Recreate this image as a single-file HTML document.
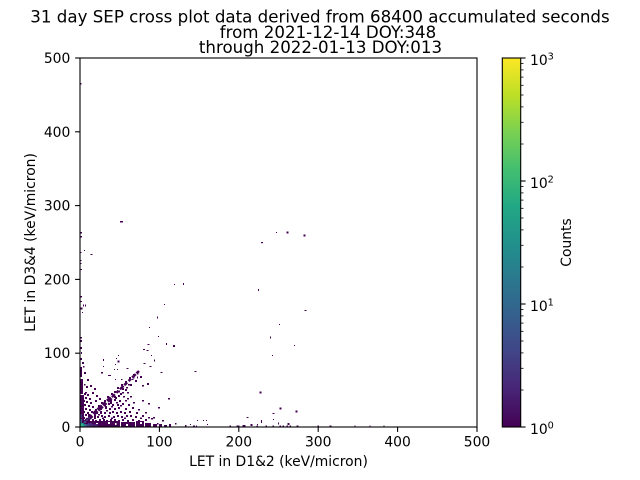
<!DOCTYPE html>
<html><head><meta charset="utf-8"><style>
html,body{margin:0;padding:0;background:#fff}
svg{display:block}
text{font-family:"DejaVu Sans","Liberation Sans",sans-serif;fill:#000}
</style></head><body>
<svg width="640" height="480" viewBox="0 0 640 480" xmlns="http://www.w3.org/2000/svg">
<defs>
<linearGradient id="vir" x1="0" y1="1" x2="0" y2="0">
<stop offset="0" stop-color="#440154"/><stop offset="0.1" stop-color="#482475"/>
<stop offset="0.2" stop-color="#414487"/><stop offset="0.3" stop-color="#355f8d"/>
<stop offset="0.4" stop-color="#2a788e"/><stop offset="0.5" stop-color="#21918c"/>
<stop offset="0.6" stop-color="#22a884"/><stop offset="0.7" stop-color="#44bf70"/>
<stop offset="0.8" stop-color="#7ad151"/><stop offset="0.9" stop-color="#bddf26"/>
<stop offset="1" stop-color="#fde725"/>
</linearGradient>
</defs>
<rect width="640" height="480" fill="#fff"/>

<!-- title -->
<g font-size="16.67">
<text x="320" y="22.3" text-anchor="middle">31 day SEP cross plot data derived from 68400 accumulated seconds</text>
<text x="328" y="37.8" text-anchor="middle">from 2021-12-14 DOY:348</text>
<text x="320.5" y="53.2" text-anchor="middle">through 2022-01-13 DOY:013</text>
</g>

<!-- heatmap -->
<g fill="#440154">
<!-- sparse upper -->
<rect x="80.5" y="83" width="1" height="1.5"/>
<rect x="120" y="221" width="3" height="1.5"/>
<rect x="80.5" y="232" width="1.5" height="1.5"/><rect x="80.5" y="236" width="1.5" height="1.5"/>
<rect x="261" y="242" width="2" height="1.2"/><rect x="276" y="232" width="1" height="1"/>
<rect x="286.5" y="231.5" width="2" height="2"/><rect x="303.5" y="234.5" width="2" height="2"/>
<rect x="84" y="250" width="1" height="1"/><rect x="90.5" y="254" width="2" height="1"/>
<rect x="80.5" y="252" width="1" height="1"/><rect x="80.5" y="269" width="1.5" height="1"/>
<rect x="80.5" y="260" width="1" height="1"/><rect x="80.5" y="263" width="1" height="1"/>
<rect x="174" y="284" width="1" height="1"/><rect x="183" y="283" width="1" height="2"/>
<rect x="258" y="289" width="1" height="2"/>
<rect x="80.5" y="296" width="1.5" height="1.5"/><rect x="80.5" y="301" width="1.5" height="1"/>
<rect x="83" y="304.5" width="1" height="2"/><rect x="85" y="304.5" width="1" height="2"/>
<rect x="80.5" y="307.5" width="2" height="2"/><rect x="82" y="312" width="1" height="1"/>
<rect x="164" y="304" width="1" height="1"/><rect x="304.5" y="310" width="2" height="1"/>
<rect x="157" y="316.5" width="1" height="2"/><rect x="279" y="324" width="1" height="1"/>
<rect x="149" y="327" width="1" height="1"/><rect x="158" y="336" width="1" height="1"/>
<rect x="270" y="336.5" width="1" height="2"/><rect x="80.5" y="337" width="1.5" height="1.5"/>
<rect x="166" y="343" width="1" height="2"/><rect x="173" y="345" width="2" height="2"/>
<rect x="294" y="345" width="1" height="1"/><rect x="147.5" y="344" width="2" height="1"/>
<rect x="143" y="349" width="2" height="1"/><rect x="146.5" y="350" width="2" height="1"/>
<rect x="272" y="355" width="1" height="1"/><rect x="118" y="355" width="1" height="1"/>
<rect x="151" y="355" width="1" height="1"/>
<rect x="103" y="359" width="1" height="2"/><rect x="117.5" y="360.5" width="2" height="2"/>
<rect x="116" y="358" width="1" height="1"/><rect x="154" y="359.5" width="1" height="2"/>
<rect x="143.5" y="363" width="2" height="1"/><rect x="115" y="364" width="1" height="1"/>
<rect x="103" y="366" width="1" height="1"/><rect x="149.5" y="366" width="2" height="1"/>
<rect x="126.5" y="368" width="2" height="1"/><rect x="114" y="369" width="1" height="1"/>
<rect x="117" y="369" width="1" height="1"/><rect x="160.5" y="372" width="2" height="1"/>
<rect x="194.5" y="371" width="2" height="1"/><rect x="137" y="372.5" width="1.5" height="2"/>
<rect x="108" y="375" width="3" height="1"/><rect x="132.5" y="376.5" width="2" height="2"/>
<rect x="137" y="376.5" width="1" height="2"/><rect x="115" y="379" width="1" height="1"/>
<rect x="121" y="379" width="1.5" height="1"/><rect x="131.5" y="379" width="2" height="1"/>
<!-- sparse lower right -->
<rect x="259.5" y="391.5" width="2" height="2"/><rect x="279.5" y="407.5" width="2" height="2"/>
<rect x="295.5" y="410.5" width="2" height="2"/><rect x="272.5" y="413" width="2" height="1"/>
<rect x="246.5" y="417" width="2" height="1"/><rect x="261" y="420" width="1" height="3"/>
<rect x="278" y="422.5" width="1" height="2"/><rect x="287.5" y="423" width="2" height="2"/>
<rect x="273" y="419" width="1" height="1"/><rect x="250.5" y="424" width="2" height="2"/>
<rect x="257" y="424" width="1" height="1"/><rect x="197" y="420" width="1" height="1"/>
<rect x="203" y="420" width="1" height="1"/><rect x="206" y="420" width="1" height="1"/>
<rect x="190" y="424" width="1" height="1"/><rect x="207" y="424" width="1" height="1"/>
<rect x="193" y="425.5" width="2" height="1.5"/><rect x="196" y="425.5" width="1" height="1.5"/>
<rect x="229.5" y="425.5" width="1.5" height="1.5"/><rect x="236.5" y="425.5" width="3" height="1.5"/>
<rect x="242.5" y="425" width="3" height="2"/><rect x="256.5" y="425.5" width="1.5" height="1.5"/>
<rect x="265.5" y="425.5" width="1.5" height="1.5"/><rect x="272.5" y="425.5" width="1.5" height="1.5"/>
<rect x="279.5" y="425.5" width="1.5" height="1.5"/><rect x="282.5" y="425.5" width="1.5" height="1.5"/>
<rect x="286.5" y="425.5" width="1.5" height="1.5"/><rect x="289.5" y="425.5" width="1.5" height="1.5"/>
<rect x="296.5" y="425.5" width="2" height="1.5"/><rect x="317.5" y="425.5" width="1.5" height="1.5"/>
<rect x="329.5" y="425.5" width="2" height="1.5"/><rect x="354.5" y="425.5" width="1" height="1.5"/>
<rect x="369.5" y="425.5" width="1" height="1.5"/><rect x="383.5" y="425.5" width="1" height="1.5"/>
<rect x="175" y="423" width="1.5" height="1.5"/><rect x="185" y="425" width="1.5" height="2"/>
<rect x="157" y="423" width="1.5" height="1.5"/>
<!-- mid scatter near cluster -->
<rect x="147" y="383" width="2" height="2"/><rect x="142" y="385" width="2" height="1.5"/>
<rect x="128" y="384" width="2" height="1.5"/><rect x="122" y="388" width="2" height="2"/>
<rect x="126" y="387" width="2" height="1.5"/><rect x="118" y="390.5" width="2" height="2"/>
<rect x="122" y="392" width="2" height="1.5"/><rect x="127" y="392" width="2" height="1.5"/>
<rect x="114" y="396" width="2" height="2"/><rect x="118" y="395" width="2" height="2"/>
<rect x="123" y="396" width="2" height="1.5"/><rect x="130" y="396" width="2" height="1.5"/>
<rect x="110" y="400" width="2" height="2"/><rect x="114" y="399" width="2" height="2"/>
<rect x="119" y="400" width="2" height="2"/><rect x="125" y="400" width="2" height="1.5"/>
<rect x="142" y="400" width="2" height="1.5"/><rect x="168" y="398" width="2" height="1.5"/>
<rect x="104" y="404" width="2" height="2"/><rect x="108" y="403" width="2" height="2"/>
<rect x="112" y="404" width="2" height="2"/><rect x="117" y="404" width="2" height="2"/>
<rect x="122" y="403" width="2" height="2"/><rect x="128" y="404" width="2" height="2"/>
<rect x="148" y="403" width="2" height="1.5"/>
<rect x="100" y="408" width="2" height="2"/><rect x="105" y="407" width="2" height="2"/>
<rect x="109" y="408" width="2" height="2"/><rect x="114" y="408" width="2" height="2"/>
<rect x="118" y="407" width="2" height="2"/><rect x="125" y="408" width="2" height="2"/>
<rect x="132" y="407" width="2" height="2"/><rect x="158" y="407" width="2" height="1.5"/>
<rect x="96" y="412" width="2" height="2"/><rect x="100" y="411" width="2" height="2"/>
<rect x="104" y="412" width="2" height="2"/><rect x="109" y="412" width="2" height="2"/>
<rect x="112" y="411" width="2" height="2"/><rect x="116" y="412" width="2" height="2"/>
<rect x="120" y="411" width="2" height="2"/><rect x="124" y="412" width="2" height="2"/>
<rect x="129" y="411" width="2" height="2"/><rect x="136" y="412" width="2" height="2"/>
<rect x="145" y="412" width="2" height="1.5"/>
<rect x="90" y="416" width="2" height="2"/><rect x="94" y="415" width="2" height="2"/>
<rect x="97" y="416" width="2" height="2"/><rect x="101" y="415" width="2" height="2"/>
<rect x="104" y="416" width="2" height="2"/><rect x="108" y="415" width="2" height="2"/>
<rect x="113" y="416" width="2" height="2"/><rect x="117" y="415" width="2" height="2"/>
<rect x="121" y="416" width="2" height="2"/><rect x="126" y="415" width="2" height="2"/>
<rect x="130" y="415" width="2" height="2"/><rect x="135" y="416" width="2" height="2"/>
<rect x="142" y="415" width="2" height="2"/><rect x="148" y="417" width="2" height="1.5"/>
<rect x="153" y="417" width="2" height="1.5"/><rect x="162" y="420" width="2" height="1.5"/>
<rect x="88" y="419" width="2" height="2"/><rect x="92" y="419" width="2" height="2"/>
<rect x="95" y="420" width="2" height="2"/><rect x="99" y="419" width="2" height="2"/>
<rect x="103" y="419" width="2" height="2"/><rect x="106" y="420" width="2" height="2"/>
<rect x="110" y="419" width="2" height="2"/><rect x="114" y="419" width="2" height="2"/>
<rect x="118" y="420" width="2" height="2"/><rect x="122" y="419" width="2" height="2"/>
<rect x="127" y="420" width="2" height="2"/><rect x="132" y="419" width="2" height="2"/>
<rect x="138" y="420" width="2" height="2"/><rect x="145" y="419" width="2" height="2"/>
<rect x="151" y="418" width="2" height="1.5"/>
<!-- extra fill below diagonal -->
<rect x="98" y="414" width="2" height="1.5"/><rect x="106" y="410" width="2" height="1.5"/>
<rect x="111" y="406" width="2" height="1.5"/><rect x="120" y="405" width="2" height="1.5"/>
<rect x="116" y="402" width="2" height="1.5"/><rect x="127" y="398" width="2" height="1.5"/>
<rect x="133" y="402" width="2" height="1.5"/><rect x="138" y="409" width="2" height="1.5"/>
<rect x="102" y="417.5" width="2" height="1.5"/><rect x="111" y="417.5" width="2" height="1.5"/>
<rect x="124" y="417.5" width="2" height="1.5"/><rect x="140" y="417.5" width="2" height="1.5"/>
<!-- along diagonal edges -->
<rect x="88" y="414" width="2" height="2"/><rect x="91" y="411" width="2" height="2"/>
<rect x="95" y="409" width="2" height="2"/><rect x="98" y="405" width="2" height="2"/>
<rect x="101" y="402" width="2" height="2"/><rect x="104" y="400" width="2" height="2"/>
<rect x="107" y="396" width="2" height="2"/><rect x="111" y="393" width="2" height="2"/>
<rect x="114" y="391" width="2" height="2"/><rect x="117" y="387" width="2" height="2"/>
<rect x="121" y="384" width="2" height="2"/><rect x="125" y="381" width="2" height="2"/>
<rect x="129" y="377" width="2" height="2"/><rect x="133" y="374" width="2" height="2"/>
<rect x="94" y="417" width="2" height="2"/><rect x="100" y="412" width="2" height="2"/>
<rect x="105" y="406" width="2" height="2"/><rect x="110" y="402" width="2" height="2"/>
<rect x="115" y="397" width="2" height="2"/><rect x="120" y="393" width="2" height="2"/>
<rect x="125" y="389" width="2" height="2"/><rect x="130" y="384" width="2" height="2"/>
<rect x="135" y="380" width="2" height="2"/><rect x="140" y="376" width="2" height="2"/>
<!-- above diagonal near y-axis -->
<rect x="84" y="393" width="2" height="2"/><rect x="87" y="394" width="2" height="2"/>
<rect x="85" y="397" width="2" height="2"/><rect x="89" y="398" width="2" height="2"/>
<rect x="83" y="400" width="2" height="2"/><rect x="86" y="401" width="2" height="2"/>
<rect x="90" y="402" width="2" height="2"/><rect x="84" y="404" width="2" height="2"/>
<rect x="88" y="405" width="2" height="2"/><rect x="92" y="406" width="2" height="2"/>
<rect x="85" y="408" width="2" height="2"/><rect x="89" y="409" width="2" height="2"/>
<rect x="83" y="411" width="2" height="2"/><rect x="87" y="412" width="2" height="2"/>
<rect x="91" y="411" width="2" height="2"/><rect x="85" y="414" width="2" height="2"/>
<rect x="88" y="416" width="2" height="2"/><rect x="83" y="417" width="2" height="2"/>
<rect x="86" y="418" width="2" height="2"/>
<rect x="90" y="385" width="2" height="2"/><rect x="94" y="388" width="2" height="2"/>
<rect x="92" y="392" width="2" height="2"/><rect x="96" y="395" width="2" height="2"/>
<rect x="99" y="398" width="2" height="2"/><rect x="95" y="400" width="2" height="2"/>
<rect x="85" y="392" width="2" height="1.5"/><rect x="87" y="379" width="2" height="2"/>
<rect x="84" y="372" width="2" height="2"/><rect x="82" y="362" width="2" height="2"/>
<rect x="80" y="358" width="2" height="2"/><rect x="81" y="352" width="1" height="2"/>
<rect x="80" y="347" width="2" height="2"/><rect x="80" y="340" width="2" height="2"/>
<rect x="86" y="386" width="2" height="2"/><rect x="101" y="372" width="2" height="1.5"/>
<rect x="84" y="384" width="1.5" height="1.5"/><rect x="83" y="366" width="1.5" height="1.5"/>
<!-- left column -->
<rect x="80" y="367" width="2" height="10"/><rect x="80" y="379" width="3" height="15"/>
<rect x="80" y="395" width="4" height="32"/>
<!-- bottom band -->
<rect x="80" y="421" width="40" height="6"/><rect x="121" y="422" width="14" height="5"/>
<rect x="136" y="421" width="8" height="6"/><rect x="145" y="423" width="6" height="4"/>
<rect x="153" y="424" width="4" height="3"/><rect x="159" y="424" width="3" height="3"/>
<rect x="164" y="425" width="3" height="2"/><rect x="169" y="424" width="2" height="3"/>
</g>
<!-- diagonal band -->
<g stroke="#440154" fill="none">
<line x1="84" y1="423" x2="112" y2="397" stroke-width="4" stroke-dasharray="6 1 4 2 5 1"/>
<line x1="112" y1="397" x2="139" y2="371" stroke-width="2.5" stroke-dasharray="4 2 3 2 5 1"/>
</g>
<!-- holes -->
<g fill="#fff">
<rect x="96" y="423" width="2" height="2"/><rect x="108" y="422" width="2" height="2"/>
<rect x="126" y="424" width="2" height="2"/><rect x="140" y="422" width="2" height="2"/>
<rect x="115" y="423" width="1.5" height="2"/>
</g>
<!-- higher counts near origin -->
<rect x="92" y="424" width="6" height="3" fill="#481f70"/>
<rect x="88" y="423" width="4" height="4" fill="#472c7a"/>
<rect x="80" y="414" width="2" height="4" fill="#46337e"/>
<rect x="86" y="424" width="3" height="3" fill="#414487"/>
<rect x="86" y="419" width="2" height="2" fill="#46337e"/>
<rect x="88" y="417" width="2" height="2" fill="#482475"/>
<rect x="84" y="421" width="2" height="2" fill="#3b528b"/>
<rect x="80" y="419" width="2" height="4" fill="#31688e"/>
<rect x="84" y="424" width="2" height="3" fill="#2a788e"/>
<rect x="80" y="423" width="4" height="4" fill="#21918c"/>
<rect x="81" y="424" width="2" height="2" fill="#2fb47c"/>

<!-- axes spines -->
<rect x="80" y="58" width="397" height="369" fill="none" stroke="#000" stroke-width="1.1"/>
<!-- ticks -->
<g stroke="#000" stroke-width="1.1">
<line x1="80" y1="427" x2="80" y2="431.9"/><line x1="159.4" y1="427" x2="159.4" y2="431.9"/>
<line x1="238.8" y1="427" x2="238.8" y2="431.9"/><line x1="318.2" y1="427" x2="318.2" y2="431.9"/>
<line x1="397.6" y1="427" x2="397.6" y2="431.9"/><line x1="477" y1="427" x2="477" y2="431.9"/>
<line x1="75.1" y1="427" x2="80" y2="427"/><line x1="75.1" y1="353.2" x2="80" y2="353.2"/>
<line x1="75.1" y1="279.4" x2="80" y2="279.4"/><line x1="75.1" y1="205.6" x2="80" y2="205.6"/>
<line x1="75.1" y1="131.8" x2="80" y2="131.8"/><line x1="75.1" y1="58" x2="80" y2="58"/>
</g>
<g font-size="13.89">
<g text-anchor="middle">
<text x="80" y="446.5">0</text><text x="159.4" y="446.5">100</text>
<text x="238.8" y="446.5">200</text><text x="318.2" y="446.5">300</text>
<text x="397.6" y="446.5">400</text><text x="477" y="446.5">500</text>
</g>
<g text-anchor="end">
<text x="70.3" y="432">0</text><text x="70.3" y="358.2">100</text>
<text x="70.3" y="284.4">200</text><text x="70.3" y="210.6">300</text>
<text x="70.3" y="136.8">400</text><text x="70.3" y="63">500</text>
</g>
<text x="278.5" y="466" text-anchor="middle">LET in D1&amp;2 (keV/micron)</text>
<text transform="translate(35,242.5) rotate(-90)" text-anchor="middle">LET in D3&amp;4 (keV/micron)</text>
<text transform="translate(571,242.5) rotate(-90)" text-anchor="middle">Counts</text>
<text x="530" y="65">10<tspan dy="-5.5" font-size="9.7">3</tspan></text>
<text x="530" y="188">10<tspan dy="-5.5" font-size="9.7">2</tspan></text>
<text x="530" y="311">10<tspan dy="-5.5" font-size="9.7">1</tspan></text>
<text x="530" y="434">10<tspan dy="-5.5" font-size="9.7">0</tspan></text>
</g>

<!-- colorbar -->
<rect x="502.3" y="58" width="18.4" height="369" fill="url(#vir)"/>
<rect x="502.3" y="58" width="18.4" height="369" fill="none" stroke="#000" stroke-width="1.1"/>
<g stroke="#000" stroke-width="1.1">
<line x1="520.7" y1="427" x2="525.6" y2="427"/><line x1="520.7" y1="304" x2="525.6" y2="304"/>
<line x1="520.7" y1="181" x2="525.6" y2="181"/><line x1="520.7" y1="58" x2="525.6" y2="58"/>
</g>
<g stroke="#000" stroke-width="0.8">
<line x1="520.7" y1="390" x2="523.5" y2="390"/><line x1="520.7" y1="368.3" x2="523.5" y2="368.3"/>
<line x1="520.7" y1="352.9" x2="523.5" y2="352.9"/><line x1="520.7" y1="341" x2="523.5" y2="341"/>
<line x1="520.7" y1="331.3" x2="523.5" y2="331.3"/><line x1="520.7" y1="323.1" x2="523.5" y2="323.1"/>
<line x1="520.7" y1="315.9" x2="523.5" y2="315.9"/><line x1="520.7" y1="309.6" x2="523.5" y2="309.6"/>
<line x1="520.7" y1="267" x2="523.5" y2="267"/><line x1="520.7" y1="245.3" x2="523.5" y2="245.3"/>
<line x1="520.7" y1="229.9" x2="523.5" y2="229.9"/><line x1="520.7" y1="218" x2="523.5" y2="218"/>
<line x1="520.7" y1="208.3" x2="523.5" y2="208.3"/><line x1="520.7" y1="200.1" x2="523.5" y2="200.1"/>
<line x1="520.7" y1="192.9" x2="523.5" y2="192.9"/><line x1="520.7" y1="186.6" x2="523.5" y2="186.6"/>
<line x1="520.7" y1="144" x2="523.5" y2="144"/><line x1="520.7" y1="122.3" x2="523.5" y2="122.3"/>
<line x1="520.7" y1="106.9" x2="523.5" y2="106.9"/><line x1="520.7" y1="95" x2="523.5" y2="95"/>
<line x1="520.7" y1="85.3" x2="523.5" y2="85.3"/><line x1="520.7" y1="77.1" x2="523.5" y2="77.1"/>
<line x1="520.7" y1="69.9" x2="523.5" y2="69.9"/><line x1="520.7" y1="63.6" x2="523.5" y2="63.6"/>
</g>
</svg>
</body></html>
